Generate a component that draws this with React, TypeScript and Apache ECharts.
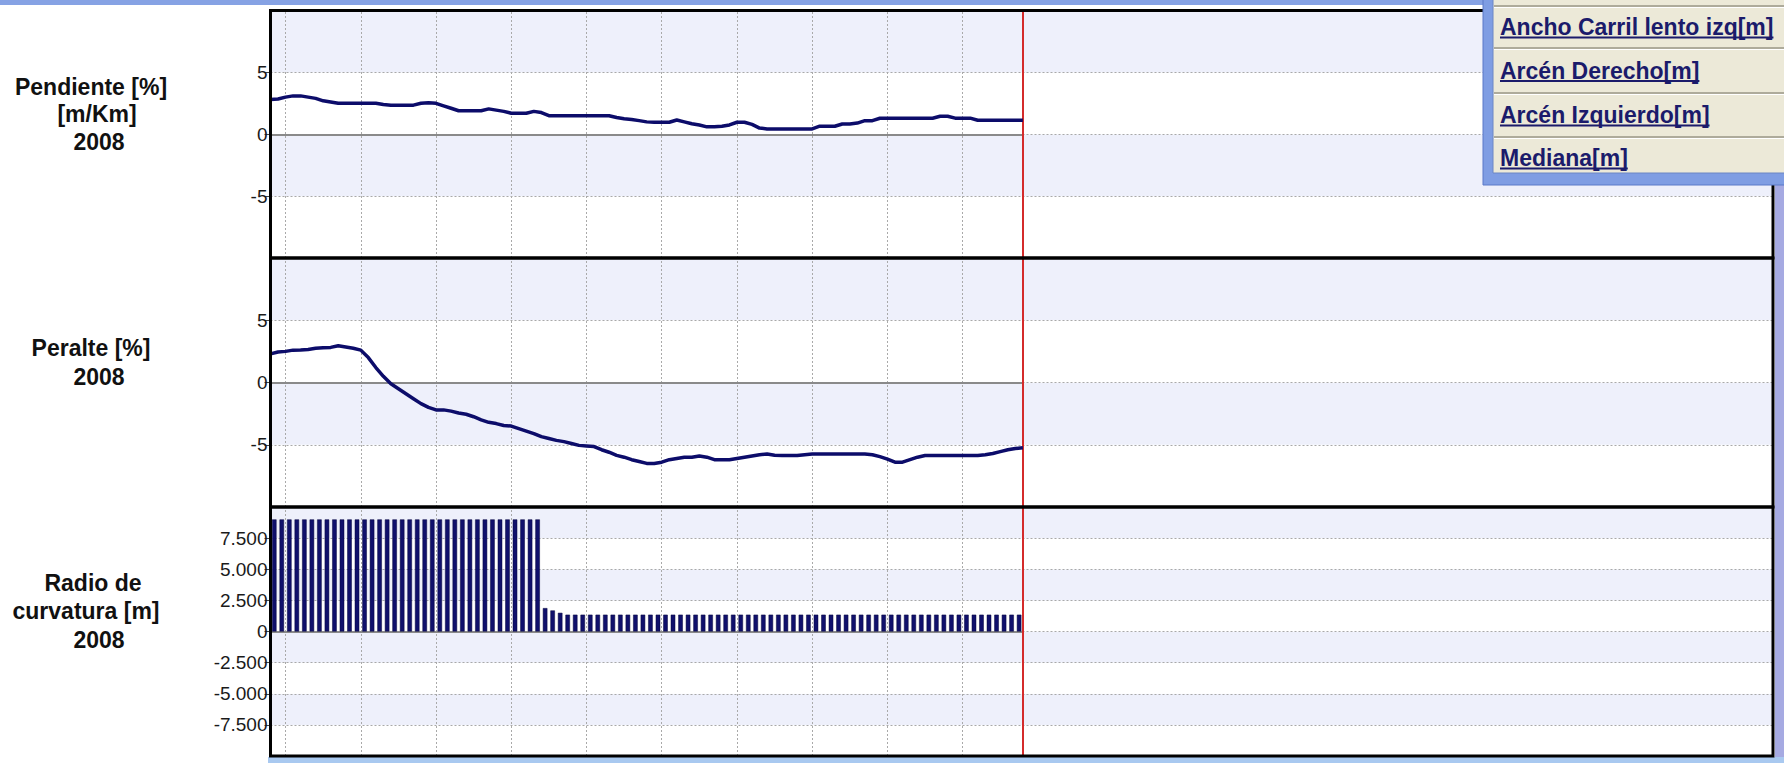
import React, { useEffect, useRef } from "react";
import * as echarts from "echarts";

// ---- data ----
const startKm = 10.8; // x of the first station (plot's left edge)
const endKm = 20.8; // last station (red cursor line)
const axisMaxKm = 30.77;
const gridKm = [11, 12, 13, 14, 15, 16, 17, 18, 19, 20];

// Pendiente [%] at every 100 m station (101 stations)
const pendiente = [
  2.8, 2.85, 3.0, 3.1, 3.1, 3.0, 2.9, 2.7, 2.6, 2.5,
  2.5, 2.5, 2.5, 2.5, 2.5, 2.4, 2.35, 2.35, 2.35, 2.35,
  2.5, 2.55, 2.5, 2.3, 2.1, 1.9, 1.9, 1.9, 1.9, 2.05,
  1.95, 1.85, 1.7, 1.7, 1.7, 1.85, 1.75, 1.5, 1.5, 1.5,
  1.5, 1.5, 1.5, 1.5, 1.5, 1.5, 1.35, 1.25, 1.2, 1.1,
  1.0, 0.97, 0.97, 0.97, 1.15, 1.0, 0.85, 0.75, 0.6, 0.6,
  0.65, 0.75, 0.97, 0.97, 0.8, 0.5, 0.43, 0.43, 0.43, 0.43,
  0.43, 0.43, 0.43, 0.65, 0.65, 0.65, 0.83, 0.83, 0.9, 1.1,
  1.1, 1.29, 1.29, 1.29, 1.29, 1.29, 1.29, 1.29, 1.29, 1.45,
  1.45, 1.3, 1.3, 1.3, 1.13, 1.13, 1.13, 1.13, 1.13, 1.13,
  1.13,
];

// Peralte [%] (101 stations)
const peralte = [
  2.3, 2.45, 2.5, 2.6, 2.62, 2.65, 2.75, 2.8, 2.82, 2.95,
  2.85, 2.75, 2.6, 2.0, 1.2, 0.5, -0.1, -0.5, -0.9, -1.3,
  -1.7, -2.0, -2.2, -2.2, -2.3, -2.45, -2.55, -2.75, -3.0, -3.2,
  -3.3, -3.45, -3.5, -3.7, -3.9, -4.1, -4.35, -4.5, -4.65, -4.75,
  -4.9, -5.05, -5.1, -5.15, -5.4, -5.6, -5.85, -6.0, -6.2, -6.35,
  -6.5, -6.5, -6.4, -6.2, -6.1, -6.0, -6.0, -5.9, -6.0, -6.2,
  -6.2, -6.2, -6.1, -6.0, -5.9, -5.8, -5.75, -5.85, -5.87, -5.87,
  -5.87, -5.8, -5.75, -5.75, -5.75, -5.75, -5.75, -5.75, -5.75, -5.75,
  -5.8, -5.95, -6.15, -6.4, -6.4, -6.2, -6.0, -5.87, -5.87, -5.87,
  -5.87, -5.87, -5.87, -5.87, -5.87, -5.8, -5.7, -5.55, -5.4, -5.3,
  -5.25,
];

// Radio de curvatura [m] (100 segments)
const radio = [
  9000, 9000, 9000, 9000, 9000, 9000, 9000, 9000, 9000, 9000,
  9000, 9000, 9000, 9000, 9000, 9000, 9000, 9000, 9000, 9000,
  9000, 9000, 9000, 9000, 9000, 9000, 9000, 9000, 9000, 9000,
  9000, 9000, 9000, 9000, 9000, 9000, 1880, 1690, 1500, 1350,
  1350, 1350, 1350, 1350, 1350, 1350, 1350, 1350, 1350, 1350,
  1350, 1350, 1350, 1350, 1350, 1350, 1350, 1350, 1350, 1350,
  1350, 1350, 1350, 1350, 1350, 1350, 1350, 1350, 1350, 1350,
  1350, 1350, 1350, 1350, 1350, 1350, 1350, 1350, 1350, 1350,
  1350, 1350, 1350, 1350, 1350, 1350, 1350, 1350, 1350, 1350,
  1350, 1350, 1350, 1350, 1350, 1350, 1350, 1350, 1350, 1350,
];

const panelTitles = [
  ["Pendiente [%]", "[m/Km]", "2008"],
  ["Peralte [%]", "2008"],
  ["Radio de", "curvatura [m]", "2008"],
];
const legendItems = [
  "Ancho Carril lento izq[m]",
  "Arcén Derecho[m]",
  "Arcén Izquierdo[m]",
  "Mediana[m]",
];

// ---- layout / style ----
const W = 1784;
const H = 763;
const PL = 270.5;
const PR = 1773;
const panels = [
  { top: 10.5, bottom: 258 },
  { top: 258, bottom: 507 },
  { top: 507, bottom: 756 },
];
const titleLayout = [
  [{ x: 91, y: 87 }, { x: 97, y: 114 }, { x: 99, y: 142 }],
  [{ x: 91, y: 348 }, { x: 99, y: 377 }],
  [{ x: 93, y: 583 }, { x: 86, y: 611 }, { x: 99, y: 640 }],
];
const NAVY = "#0c0c6a";
const FONT = '"Liberation Sans", Arial, sans-serif';
const GRID_COLOR = "#a9a9a9";
const GRID_DASH = [2, 2];

const stationKm = (i: number) => Math.round(startKm * 10 + i) / 10;

function textWidth(text: string, font: string) {
  const c = document.createElement("canvas").getContext("2d");
  if (!c) return text.length * 11;
  c.font = font;
  return c.measureText(text).width;
}

function fmtThousands(v: number) {
  const a = Math.abs(v);
  const s = a >= 1000 ? Math.floor(a / 1000) + "." + String(a % 1000).padStart(3, "0") : String(a);
  return (v < 0 ? "-" : "") + s;
}

function buildOption() {
  const yCommon = (i: number, min: number, max: number, interval: number, fmt?: (v: number) => string) => ({
    type: "value",
    gridIndex: i,
    min,
    max,
    interval,
    axisLine: { show: false },
    axisTick: { show: true, length: 6, lineStyle: { color: "#444", width: 1 } },
    axisLabel: {
      showMinLabel: false,
      showMaxLabel: false,
      fontSize: 19,
      fontFamily: FONT,
      color: "#1a1a1a",
      margin: 3,
      formatter: fmt,
    },
    splitLine: { show: true, lineStyle: { color: GRID_COLOR, type: GRID_DASH, width: 1 } },
    splitArea: { show: true, areaStyle: { color: ["#ffffff", "#eef0fb"] } },
  });

  const guideSeries = (i: number) => ({
    type: "line",
    xAxisIndex: i,
    yAxisIndex: i,
    data: [],
    z: 1,
    silent: true,
    markLine: {
      silent: true,
      symbol: ["none", "none"],
      label: { show: false },
      animation: false,
      data: [
        ...gridKm.map((x) => ({ xAxis: x, lineStyle: { type: GRID_DASH, color: GRID_COLOR, width: 1 } })),
        [
          { coord: [startKm, 0], lineStyle: { type: "solid", color: "#8a8a8a", width: 2 } },
          { coord: [endKm, 0], lineStyle: { type: "solid", color: "#8a8a8a", width: 2 } },
        ],
      ],
    },
  });

  const cursorSeries = (i: number) => ({
    type: "line",
    xAxisIndex: i,
    yAxisIndex: i,
    data: [],
    z: 20,
    silent: true,
    markLine: {
      silent: true,
      symbol: ["none", "none"],
      label: { show: false },
      animation: false,
      data: [{ xAxis: endKm, lineStyle: { type: "solid", color: "#d42b2b", width: 2 } }],
    },
  });

  const graphics: any[] = [];
  // window chrome strips
  graphics.push({ type: "rect", shape: { x: 0, y: 0, width: W, height: 5 }, style: { fill: "#86a2e4" }, z: 50 });
  graphics.push({ type: "rect", shape: { x: 1775, y: 0, width: 9, height: H }, style: { fill: "#a6aae2" }, z: 50 });
  graphics.push({ type: "rect", shape: { x: 268, y: 757, width: W - 268, height: 6 }, style: { fill: "#a9c9f0" }, z: 50 });
  // panel frames
  panels.forEach((p) => {
    graphics.push({
      type: "rect",
      shape: { x: PL, y: p.top, width: PR - PL, height: p.bottom - p.top },
      style: { fill: "none", stroke: "#000", lineWidth: 3 },
      z: 60,
    });
  });
  // panel titles
  panelTitles.forEach((lines, pi) => {
    lines.forEach((t, li) => {
      const pos = titleLayout[pi][li];
      graphics.push({
        type: "text",
        x: pos.x,
        y: pos.y,
        style: {
          text: t,
          fill: "#111",
          font: `bold 23px ${FONT}`,
          align: "center",
          verticalAlign: "middle",
          textAlign: "center",
          textVerticalAlign: "middle",
        },
        z: 60,
      });
    });
  });
  // legend / menu box
  const bx = 1483;
  graphics.push({ type: "rect", shape: { x: bx, y: -4, width: W - bx + 4, height: 189 }, style: { fill: "#7f9de3", stroke: "#5a78c8", lineWidth: 1 }, z: 70 });
  graphics.push({ type: "rect", shape: { x: bx + 10, y: -2, width: W - bx, height: 175 }, style: { fill: "#ece9d8", stroke: "#6d86c4", lineWidth: 1 }, z: 71 });
  const sepY = [6, 48, 93, 137];
  sepY.forEach((y) => {
    graphics.push({ type: "line", shape: { x1: bx + 11, y1: y, x2: W, y2: y }, style: { stroke: "#aeab9b", lineWidth: 2 }, z: 72 });
    graphics.push({ type: "line", shape: { x1: bx + 11, y1: y + 1.5, x2: W, y2: y + 1.5 }, style: { stroke: "#ffffff", lineWidth: 1 }, z: 72 });
  });
  const rowCenters = [27, 70.5, 115, 158];
  const legendFont = `bold 23px ${FONT}`;
  legendItems.forEach((t, i) => {
    const y = rowCenters[i];
    graphics.push({
      type: "text",
      x: 1500,
      y,
      style: { text: t, fill: "#1b1b6b", font: legendFont, align: "left", verticalAlign: "middle", textAlign: "left", textVerticalAlign: "middle" },
      z: 73,
    });
    const w = textWidth(t, legendFont);
    graphics.push({ type: "line", shape: { x1: 1500, y1: y + 10.5, x2: 1500 + w, y2: y + 10.5 }, style: { stroke: "#1b1b6b", lineWidth: 2 }, z: 73 });
  });

  return {
    animation: false,
    backgroundColor: "#ffffff",
    grid: panels.map((p) => ({ left: PL, top: p.top, width: PR - PL, height: p.bottom - p.top, show: false })),
    xAxis: panels.map((_, i) => ({
      type: "value",
      gridIndex: i,
      min: startKm,
      max: axisMaxKm,
      axisLine: { show: false },
      axisTick: { show: false },
      axisLabel: { show: false },
      splitLine: { show: false },
    })),
    yAxis: [
      yCommon(0, -10, 10, 5),
      yCommon(1, -10, 10, 5),
      yCommon(2, -10000, 10000, 2500, fmtThousands),
    ],
    series: [
      guideSeries(0),
      guideSeries(1),
      guideSeries(2),
      {
        type: "line",
        xAxisIndex: 0,
        yAxisIndex: 0,
        data: pendiente.map((v, i) => [stationKm(i), v]),
        showSymbol: false,
        symbol: "none",
        lineStyle: { color: NAVY, width: 3.5 },
        z: 5,
      },
      {
        type: "line",
        xAxisIndex: 1,
        yAxisIndex: 1,
        data: peralte.map((v, i) => [stationKm(i), v]),
        showSymbol: false,
        symbol: "none",
        lineStyle: { color: NAVY, width: 3.5 },
        z: 5,
      },
      {
        type: "bar",
        xAxisIndex: 2,
        yAxisIndex: 2,
        data: radio.map((v, i) => [stationKm(i) + 0.05, v]),
        barWidth: 4.5,
        itemStyle: { color: "#10106c", borderColor: "#06063c", borderWidth: 0.5 },
        z: 5,
      },
      cursorSeries(0),
      cursorSeries(1),
      cursorSeries(2),
    ],
    graphic: { elements: graphics },
  };
}

export default function App() {
  const ref = useRef<HTMLDivElement>(null);
  useEffect(() => {
    if (!ref.current) return;
    const chart = echarts.init(ref.current, null, { renderer: "svg" });
    chart.setOption(buildOption() as any);
    return () => chart.dispose();
  }, []);
  return (
    <div
      ref={ref}
      style={{ position: "absolute", left: 0, top: 0, width: W, height: H, background: "#fff" }}
    />
  );
}
